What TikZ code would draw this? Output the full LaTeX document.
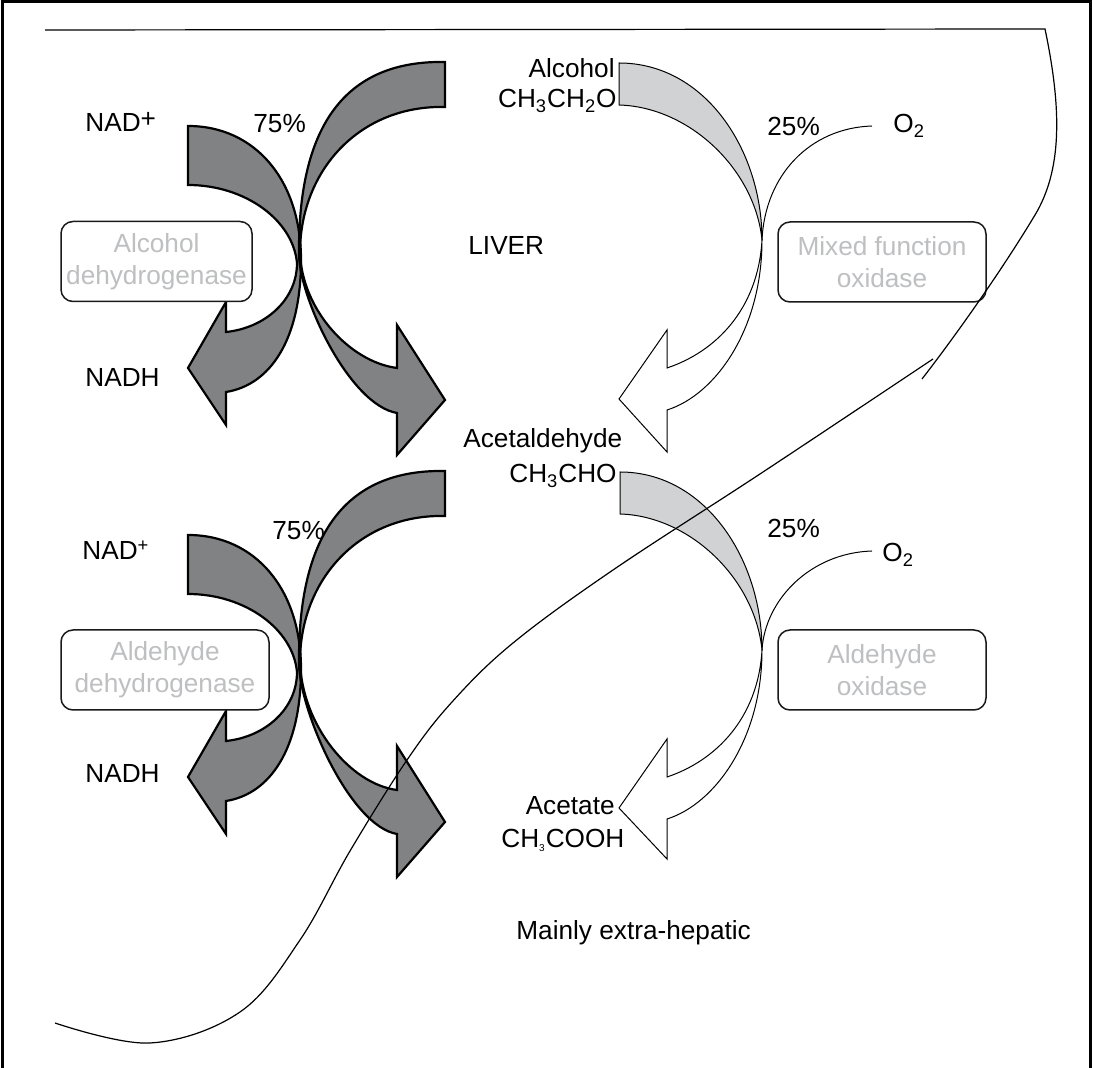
\documentclass[tikz,border=0pt]{standalone}
\usepackage{fontspec}
\setmainfont{Liberation Sans}
\definecolor{arrowdark}{RGB}{128,130,132}
\definecolor{arrowlight}{RGB}{209,210,212}
\definecolor{enztext}{RGB}{190,191,193}
\begin{document}
\begin{tikzpicture}[x=0.5pt, y=-0.5pt,
    every node/.style={font=\fontsize{13.1}{16}\selectfont, inner sep=0pt},
    darkarrow/.style={fill=arrowdark, draw=black, line width=1.1pt},
    lightarrow/.style={draw=black, line width=0.5pt},
    enzyme/.style={draw=black!90, line width=0.75pt, rounded corners=6pt, fill=white,
        text=enztext, align=center, minimum height=40pt},
    border/.style={line width=0.6pt}]
    \useasboundingbox (0,0) rectangle (1093,1068);
    \draw[line width=1.5pt] (2,1068) -- (2,2) -- (1090,2) -- (1090,1068);

    % dehydrogenase arrows
    \draw[darkarrow] (188,126) .. controls (255,126) and (301,180) .. (301,260)
        .. controls (301,340) and (270,385) .. (226,392) -- (226,425) -- (188,368) -- (226,302) -- (226,332)
        .. controls (265,328) and (297,300) .. (297,263) .. controls (293,220) and (245,185) .. (188,185) -- cycle;
    \draw[darkarrow] (445,62) .. controls (335,60) and (298,140) .. (299,255)
        .. controls (300,300) and (350,405) .. (397,413) -- (397,455) -- (445,400) -- (397,325) -- (397,368)
        .. controls (350,362) and (302,310) .. (300,253) .. controls (300,170) and (360,105) .. (445,107) -- cycle;
    \draw[darkarrow] (188,535) .. controls (255,535) and (301,589) .. (301,669)
        .. controls (301,749) and (270,794) .. (226,801) -- (226,834) -- (188,777) -- (226,711) -- (226,741)
        .. controls (265,737) and (297,709) .. (297,672) .. controls (293,629) and (245,594) .. (188,594) -- cycle;
    \draw[darkarrow] (445,471) .. controls (335,469) and (298,549) .. (299,664)
        .. controls (300,712) and (350,826) .. (397,834) -- (397,877) -- (445,822) -- (397,746) -- (397,790)
        .. controls (350,784) and (302,725) .. (300,662) .. controls (300,579) and (360,514) .. (445,516) -- cycle;

    % oxidase arrows
    \draw[lightarrow, fill=arrowlight] (619,63) .. controls (705,63) and (762,150) .. (762,240)
        .. controls (755,170) and (690,107) .. (619,105) -- cycle;
    \draw[lightarrow, fill=white] (762,240) .. controls (762,330) and (715,395) .. (667,410) -- (667,452)
        -- (619,399) -- (667,330) -- (667,368) .. controls (715,352) and (758,310) .. (762,240) -- cycle;
    \draw[lightarrow] (872,126) .. controls (810,128) and (765,175) .. (762,240);
    \draw[lightarrow, fill=arrowlight] (620,472) .. controls (705,472) and (762,559) .. (762,650)
        .. controls (755,579) and (690,516) .. (620,514) -- cycle;
    \draw[lightarrow, fill=white] (762,650) .. controls (762,739) and (715,804) .. (667,819) -- (667,859)
        -- (619,808) -- (667,739) -- (667,777) .. controls (715,761) and (758,719) .. (762,650) -- cycle;
    \draw[lightarrow] (872,551) .. controls (810,553) and (765,600) .. (762,650);

    \node[enzyme, minimum width=95.5pt] (adh) at (156.5,261.5) {Alcohol\\dehydrogenase};
    \node[enzyme, minimum width=104pt] (aldh) at (165,670) {Aldehyde\\dehydrogenase};
    \node[enzyme, minimum width=104pt] (mfo) at (882,262) {Mixed function\\oxidase};
    \node[enzyme, minimum width=104pt] (ao) at (882,670) {Aldehyde\\oxidase};

    \node[anchor=base west] (nadA) at (85,132) {NAD\raisebox{2pt}{+}};
    \node[anchor=base west] (pctA) at (253,133) {75\%};
    \node[anchor=base west] (nadhA) at (85,387) {NADH};
    \node[anchor=base east] (alc) at (615,78) {Alcohol};
    \node[anchor=base east] (alcf) at (617,108) {CH\textsubscript{3}CH\textsubscript{2}O};
    \node[anchor=base west] (liver) at (468,255) {LIVER};
    \node[anchor=base west] (pctB) at (767,136) {25\%};
    \node[anchor=base west] (oxA) at (893,133) {O\textsubscript{2}};
    \node[anchor=base west] (acd) at (463,448) {Acetaldehyde};
    \node[anchor=base east] (acdf) at (617,483) {CH\textsubscript{3}CHO};
    \node[anchor=base west] (nadB) at (82,560) {NAD\textsuperscript{+}};
    \node[anchor=base west] (pctC) at (272,540) {75\%};
    \node[anchor=base west] (pctD) at (767,538) {25\%};
    \node[anchor=base west] (oxB) at (882,562) {O\textsubscript{2}};
    \node[anchor=base west] (nadhB) at (85,783) {NADH};
    \node[anchor=base east] (act) at (615,815) {Acetate};
    \node[anchor=base west] (actf) at (501,848) {CH\textsubscript{\tiny 3}COOH};
    \node[anchor=base west] (extra) at (516,940) {Mainly extra-hepatic};

    % liver and extra-hepatic boundaries
    \draw[border] (45,30) -- (1045,29) .. controls (1062,110) and (1062,170) .. (1035,215)
        .. controls (1005,265) and (960,330) .. (922,379);
    \draw[border] plot[smooth, tension=0.6] coordinates {(55,1023) (150,1043) (240,1012) (300,940)
        (350,851) (407,760) (452,702) (513,643) (613,570) (763,472) (933,359)};
\end{tikzpicture}
\end{document}
